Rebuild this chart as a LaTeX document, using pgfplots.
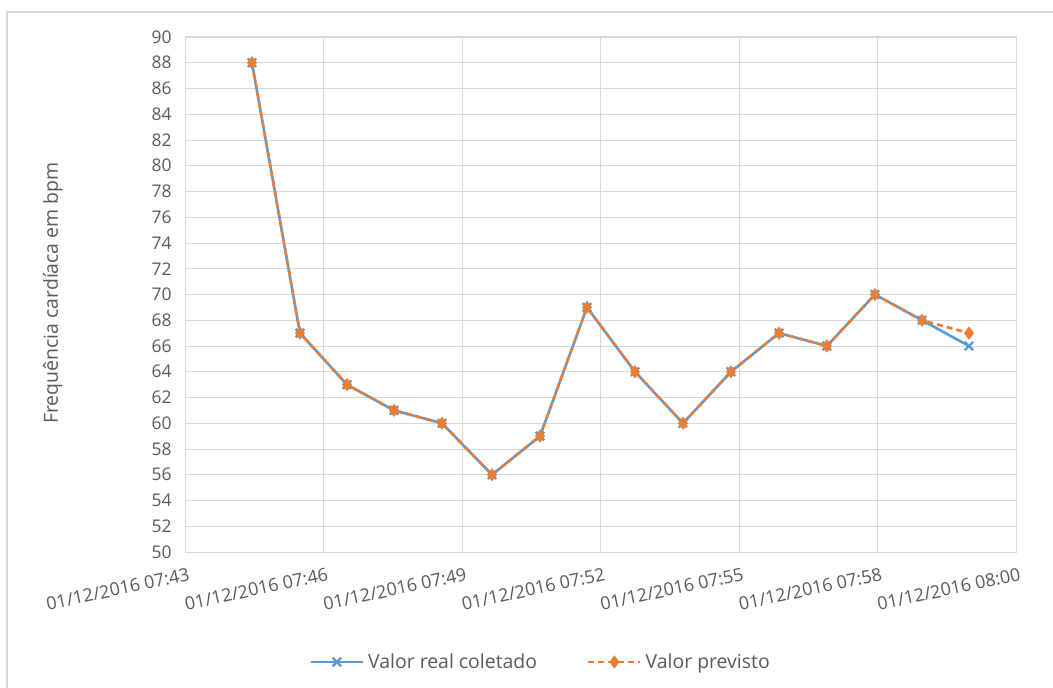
\documentclass[border=0pt]{standalone}
\usepackage{pgfplots}
\pgfplotsset{compat=1.18}
\usepackage{fontspec}
\setmainfont{Open Sans}
\definecolor{txt}{HTML}{595959}
\definecolor{grd}{HTML}{D9D9D9}
\definecolor{serA}{HTML}{5B9BD5}
\definecolor{serB}{HTML}{ED7D31}

% minutes after 07:43 ; heart rate in bpm
\pgfplotstableread{
t       bpm
1.393   88
2.391   67
3.369   63
4.346   61
5.344   60
6.384   56
7.382   59
8.359   69
9.357   64
10.355  60
11.353  64
12.351  67
13.349  66
14.347  70
15.325  68
16.302  66
}\real
\pgfplotstableread{
t       bpm
1.393   88
2.391   67
3.369   63
4.346   61
5.344   60
6.384   56
7.382   59
8.359   69
9.357   64
10.355  60
11.353  64
12.351  67
13.349  66
14.347  70
15.325  68
16.302  67
}\previsto

\begin{document}
\begin{tikzpicture}
\path[use as bounding box] (0bp,0bp) rectangle (1053bp,688bp);
\draw[grd, line width=1.2bp] (7bp,0bp) -- (7bp,676bp) -- (1053bp,676bp);
\begin{axis}[
  at={(185bp,136bp)}, anchor=south west,
  scale only axis, width=831bp, height=515bp,
  xmin=0, xmax=17.28, ymin=50, ymax=90,
  ytick={50,52,...,90},
  xtick={0,2.88,5.76,8.64,11.52,14.4,17.28},
  xticklabels={01/12/2016 07:43,01/12/2016 07:46,01/12/2016 07:49,01/12/2016 07:52,01/12/2016 07:55,01/12/2016 07:58,01/12/2016 08:00},
  grid=major,
  major grid style={grd, line width=0.9bp},
  axis line style={grd, line width=1bp},
  major tick length=0pt,
  /pgf/number format/assume math mode=true,
  tick label style={text=txt},
  yticklabel style={anchor=east, xshift=-10bp, font=\fontsize{17.5}{20}\selectfont},
  xticklabel style={rotate=12, anchor=north east, yshift=-12bp, xshift=3bp, font=\fontsize{18}{21}\selectfont},
  ylabel={Frequência cardíaca em bpm},
  ylabel style={at={(axis description cs:-0.159,0.503)}, anchor=center, font=\fontsize{19.5}{22}\selectfont, text=txt},
  legend columns=2,
  legend style={at={(axis description cs:0.428,-0.2136)}, anchor=center, draw=none, fill=none,
    font=\fontsize{19.5}{22}\selectfont, text=txt,
    /tikz/every odd column/.append style={column sep=2bp},
    /tikz/every even column/.append style={column sep=48bp}},
  legend image code/.code={
    \draw[#1, mark repeat=2, mark phase=2] plot coordinates {(0bp,0bp) (26bp,0bp) (52bp,0bp)};
  },
]
\addplot[serA, line width=2.6bp, mark=x, mark size=6bp,
  mark options={solid, line width=2.4bp}] table[x=t, y=bpm] {\real};
\addlegendentry{Valor real coletado}
\addplot[serB, line width=2.6bp, dash pattern=on 6bp off 4bp, mark=diamond*, mark size=4.5bp,
  mark options={solid}] table[x=t, y=bpm] {\previsto};
\addlegendentry{Valor previsto}
\end{axis}
\end{tikzpicture}
\end{document}
